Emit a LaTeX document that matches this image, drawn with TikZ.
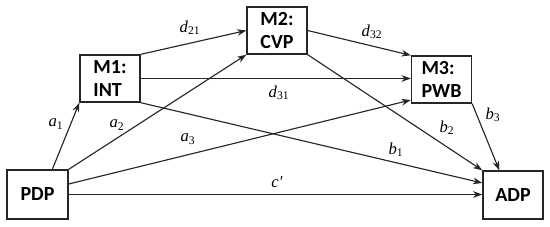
\documentclass[tikz,border=0pt]{standalone}
\usepackage{fontspec}
\setmainfont{Carlito}
\newfontfamily\labfont{Liberation Serif}
\usetikzlibrary{arrows.meta,calc}
\begin{document}
\begin{tikzpicture}[x=0.75pt,y=-0.75pt,
  boxnode/.style={draw=black!85,line width=1pt,fill=white,minimum width=45pt,minimum height=35.25pt,
    align=left,inner sep=2pt,font=\fontsize{15}{17.5}\selectfont\bfseries},
  conn/.style={draw=black!85,line width=0.85pt,-{Stealth[length=7pt,width=5pt]}},
  lab/.style={font=\fontsize{12.5}{14}\selectfont\labfont\itshape,inner sep=0pt}]
\useasboundingbox (0,0) rectangle (550,226);
\node[boxnode] (m1) at (110,78.5) {M1:\\INT};
\node[boxnode] (m2) at (277,30.5) {M2:\\CVP};
\node[boxnode] (m3) at (441.5,79.5) {M3:\\PWB};
\node[boxnode,minimum width=45.75pt,minimum height=36.75pt] (pdp) at (37.5,194.5) {PDP};
\node[boxnode,minimum height=36pt] (adp) at (513,195) {ADP};
% connectors
\draw[conn] ($(pdp.north west)+(46,0)$) -- (m1.south west);
\draw[conn] (pdp.north east) -- (m2.south west);
\draw[conn] ($(pdp.east)+(0,-10.5)$) -- ($(m3.west)+(0,20.5)$);
\draw[conn] (pdp.east) -- (pdp.east -| adp.west);
\draw[conn] (m1.north east) -- (m2.west);
\draw[conn] (m1.east) -- (m1.east -| m3.west);
\draw[conn] (m1.south east) -- ($(adp.west)+(0,-12)$);
\draw[conn] (m2.east) -- (m3.north west);
\draw[conn] (m2.south east) -- (adp.north west);
\draw[conn] (m3.south east) -- ($(adp.north west)+(17,0)$);
% labels
\node[lab] (la1) at (56,124) {a\textsubscript{\upshape 1}};
\node[lab] (la2) at (117,125) {a\textsubscript{\upshape 2}};
\node[lab] (la3) at (188,139) {a\textsubscript{\upshape 3}};
\node[lab] (lc) at (277,182) {c′};
\node[lab] (ld21) at (190,28) {d\textsubscript{\upshape 21}};
\node[lab] (ld31) at (279,93) {d\textsubscript{\upshape 31}};
\node[lab] (ld32) at (372,32) {d\textsubscript{\upshape 32}};
\node[lab] (lb1) at (396,150) {b\textsubscript{\upshape 1}};
\node[lab] (lb2) at (447,128) {b\textsubscript{\upshape 2}};
\node[lab] (lb3) at (493,115) {b\textsubscript{\upshape 3}};
\end{tikzpicture}
\end{document}
